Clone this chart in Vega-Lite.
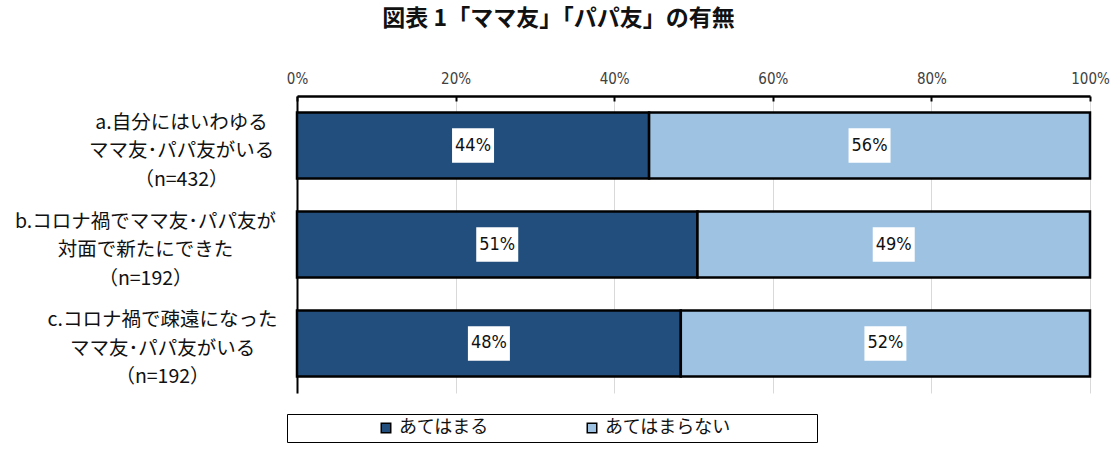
{
  "$schema": "https://vega.github.io/schema/vega-lite/v6.json",
  "width": 793,
  "height": 297,
  "autosize": "none",
  "padding": {"left": 297, "top": 96, "right": 27, "bottom": 58},
  "background": "white",
  "title": {
    "text": "図表 1「ママ友」「パパ友」の有無",
    "font": "Noto Sans CJK JP",
    "fontSize": 23,
    "fontWeight": "bold",
    "color": "#111111",
    "anchor": "middle",
    "frame": "group",
    "dx": -135,
    "offset": 40
  },
  "config": {
    "view": {"stroke": null},
    "text": {"font": "Noto Sans CJK JP"}
  },
  "data": {
    "values": [
      {"item": "a.自分にはいわゆる\nママ友･パパ友がいる\n（n=432）", "cat": "あてはまる", "ord": 1, "pct": 44.4, "label": "44%"},
      {"item": "a.自分にはいわゆる\nママ友･パパ友がいる\n（n=432）", "cat": "あてはまらない", "ord": 2, "pct": 55.6, "label": "56%"},
      {"item": "b.コロナ禍でママ友･パパ友が\n対面で新たにできた\n（n=192）", "cat": "あてはまる", "ord": 1, "pct": 50.5, "label": "51%"},
      {"item": "b.コロナ禍でママ友･パパ友が\n対面で新たにできた\n（n=192）", "cat": "あてはまらない", "ord": 2, "pct": 49.5, "label": "49%"},
      {"item": "c.コロナ禍で疎遠になった\nママ友･パパ友がいる\n（n=192）", "cat": "あてはまる", "ord": 1, "pct": 48.4, "label": "48%"},
      {"item": "c.コロナ禍で疎遠になった\nママ友･パパ友がいる\n（n=192）", "cat": "あてはまらない", "ord": 2, "pct": 51.6, "label": "52%"}
    ]
  },
  "encoding": {
    "y": {
      "field": "item",
      "type": "nominal",
      "sort": null,
      "title": null,
      "scale": {"paddingInner": 0.3333, "paddingOuter": 0.1667},
      "axis": {
        "labelExpr": "split(datum.label, '\\n')",
        "labelAlign": "center",
        "labelBaseline": "middle",
        "labelPadding": {
          "condition": [
            {"test": "indexof(datum.value, 'b.') == 0", "value": 152},
            {"test": "indexof(datum.value, 'c.') == 0", "value": 135}
          ],
          "value": 116
        },
        "labelOffset": -23,
        "labelFont": "Noto Sans CJK JP",
        "labelFontSize": 19.5,
        "labelLineHeight": 28.5,
        "labelColor": "#111111",
        "labelLimit": 400,
        "ticks": false,
        "grid": false,
        "domainColor": "#000000",
        "domainWidth": 2
      }
    },
    "x": {
      "field": "pct",
      "type": "quantitative",
      "stack": "zero",
      "scale": {"domain": [0, 100], "nice": false},
      "title": null,
      "axis": {
        "orient": "top",
        "values": [0, 20, 40, 60, 80, 100],
        "labelExpr": "datum.value + '%'",
        "labelFont": "Liberation Sans Narrow, DejaVu Sans Condensed, sans-serif",
        "labelFontSize": 15,
        "labelColor": "#404040",
        "labelPadding": 15,
        "labelFlush": false,
        "tickSize": -5,
        "tickColor": "#000000",
        "tickWidth": 2,
        "domainColor": "#000000",
        "domainWidth": 2.5,
        "grid": true,
        "gridColor": "#d9d9d9",
        "gridWidth": 1
      }
    },
    "order": {"field": "ord", "type": "quantitative"}
  },
  "layer": [
    {
      "mark": {"type": "bar", "stroke": "#000000", "strokeWidth": 2.5},
      "encoding": {
        "color": {
          "field": "cat",
          "type": "nominal",
          "sort": ["あてはまる", "あてはまらない"],
          "scale": {"domain": ["あてはまる", "あてはまらない"], "range": ["#214e7c", "#9dc2e2"]},
          "legend": {
            "orient": "none",
            "legendX": -10,
            "legendY": 318,
            "direction": "horizontal",
            "title": "　",
            "titleOrient": "right",
            "titlePadding": 81,
            "titleFontSize": 18,
            "titleFont": "Noto Sans CJK JP",
            "strokeColor": "#000000",
            "fillColor": "#ffffff",
            "padding": 5,
            "symbolType": "square",
            "symbolSize": 90,
            "symbolStrokeColor": "#000000",
            "symbolStrokeWidth": 1.5,
            "symbolOffset": 85,
            "labelOffset": 4,
            "columnPadding": 9,
            "labelFont": "Noto Sans CJK JP",
            "labelFontSize": 18,
            "labelColor": "#111111",
            "labelLimit": 400
          }
        }
      }
    },
    {
      "mark": {"type": "point", "filled": true, "color": "#ffffff", "opacity": 1, "shape": "M-1,-0.82H1V0.82H-1Z", "size": 1764},
      "encoding": {
        "x": {"field": "pct", "type": "quantitative", "stack": "zero", "bandPosition": 0.5}
      }
    },
    {
      "mark": {"type": "text", "font": "Liberation Sans Narrow, DejaVu Sans Condensed, sans-serif", "fontSize": 18, "color": "#111111", "baseline": "middle", "align": "center"},
      "encoding": {
        "x": {"field": "pct", "type": "quantitative", "stack": "zero", "bandPosition": 0.5},
        "text": {"field": "label"}
      }
    }
  ]
}
